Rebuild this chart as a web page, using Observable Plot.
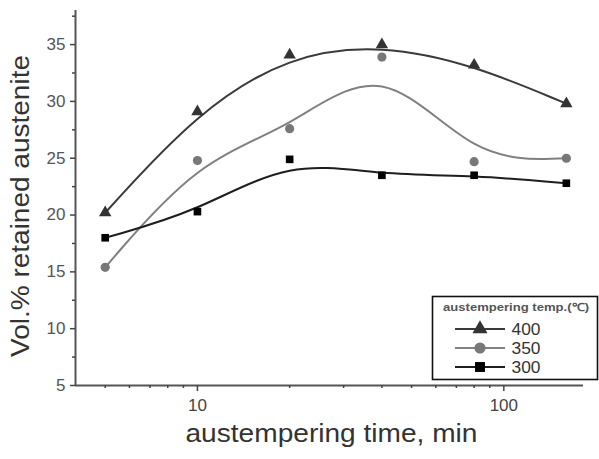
<!DOCTYPE html>
<html><head><meta charset="utf-8">
<script src="https://cdn.jsdelivr.net/npm/d3@7"></script>
<script src="https://cdn.jsdelivr.net/npm/@observablehq/plot@0.6"></script>
<style>
body{margin:0;background:#fff}
#chart{position:relative;width:599px;height:459px;font-family:"Liberation Sans",Arial,sans-serif}
</style>
</head><body><div id="chart"></div>
<script>
// Data
const times = [5, 10, 20, 40, 80, 160];
const temps = ["400", "350", "300"];
const v400 = [20.2, 29.1, 34.1, 35.0, 33.2, 29.8];
const v350 = [15.4, 24.8, 27.6, 33.9, 24.7, 25.0];
const v300 = [18.0, 20.3, 24.9, 23.5, 23.5, 22.8];
const yTicks = [5, 10, 15, 20, 25, 30, 35];
const yMinor = [7.5, 12.5, 17.5, 22.5, 27.5, 32.5, 37.5];
const xTicks = [10, 100];
const xMinor = [5, 6, 7, 8, 9, 20, 30, 40, 50, 60, 70, 80, 90];
const xLabel = "austempering time, min";
const yLabel = "Vol.% retained austenite";
const legendTitle = "austempering temp.(℃)";

const seriesValues = {"400": v400, "350": v350, "300": v300};
const styles = {
  "400": {line: "#3a3a3a", fill: "#333333", symbol: "triangle", r: 4.6, lr: 5.6},
  "350": {line: "#808080", fill: "#787878", symbol: "circle", r: 4.6, lr: 5.6},
  "300": {line: "#1e1e1e", fill: "#000000", symbol: "square", r: 4.3, lr: 5.6}
};

const data = [];
for (const t of temps) times.forEach((x, j) => data.push({temp: t, time: x, value: seriesValues[t][j]}));

const axisColor = "#555";
const marks = [
  Plot.ruleX([4], {stroke: axisColor, strokeWidth: 2}),
  Plot.ruleY([5], {stroke: axisColor, strokeWidth: 2}),
  Plot.axisY({ticks: yTicks, tickSize: 5, tickPadding: 5, fontSize: 17, stroke: "#444", strokeWidth: 1.5, fill: "#555", label: null}),
  Plot.axisY({ticks: yMinor, tickSize: 3, tickFormat: () => "", stroke: "#444", strokeWidth: 1.5, label: null}),
  Plot.axisX({ticks: xTicks, tickSize: 6, tickPadding: 7, fontSize: 17, stroke: "#444", strokeWidth: 1.5, fill: "#444", label: null}),
  Plot.axisX({ticks: xMinor, tickSize: 3, tickFormat: () => "", stroke: "#444", strokeWidth: 1.5, label: null}),
];
for (const t of temps) {
  const s = styles[t];
  const d = data.filter(e => e.temp === t);
  marks.push(Plot.line(d, {x: "time", y: "value", curve: "basis", stroke: s.line, strokeWidth: 2}));
}
for (const t of temps) {
  const s = styles[t];
  const d = data.filter(e => e.temp === t);
  marks.push(Plot.dot(d, {x: "time", y: "value", symbol: () => s.symbol, fill: s.fill, stroke: "none", r: s.r}));
}
marks.push(Plot.text([yLabel], {frameAnchor: "left", textAnchor: "middle", rotate: -90, dx: -55, dy: 8, fontSize: 26, fill: "#333", text: d => d, className: "ylab"}));
marks.push(Plot.text([xLabel], {frameAnchor: "bottom", textAnchor: "middle", dy: 56, dx: 2, fontSize: 26, fill: "#333", text: d => d, className: "xlab"}));

const plot = Plot.plot({
  width: 599, height: 459,
  marginLeft: 75, marginRight: 16, marginTop: 10, marginBottom: 74,
  style: {fontFamily: '"Liberation Sans", Arial, sans-serif', background: "#fff"},
  x: {type: "log", domain: [4, 182]},
  y: {domain: [5, 38]},
  symbol: {type: "identity"},
  marks
});
document.getElementById("chart").appendChild(plot);

const svg = d3.select(plot);
svg.selectAll(".ylab text").attr("textLength", 302).attr("lengthAdjust", "spacingAndGlyphs");
svg.selectAll(".xlab text").attr("textLength", 292).attr("lengthAdjust", "spacingAndGlyphs");

// Legend (boxed, lower right)
const g = svg.append("g").attr("font-family", '"Liberation Sans", Arial, sans-serif');
g.append("rect").attr("x", 432.5).attr("y", 296.5).attr("width", 165).attr("height", 83)
  .attr("fill", "#fff").attr("stroke", "#111").attr("stroke-width", 1.6);
g.append("text").attr("x", 516).attr("y", 311).attr("text-anchor", "middle")
  .attr("font-size", 11).attr("font-weight", "bold").attr("fill", "#555")
  .attr("textLength", 146).attr("lengthAdjust", "spacingAndGlyphs").text(legendTitle);
const sym = {triangle: d3.symbolTriangle, circle: d3.symbolCircle, square: d3.symbolSquare};
temps.forEach((t, i) => {
  const s = styles[t];
  const y = 329 + i * 19;
  g.append("line").attr("x1", 455).attr("x2", 505).attr("y1", y).attr("y2", y)
    .attr("stroke", s.line).attr("stroke-width", 2);
  g.append("path").attr("transform", `translate(480,${y})`)
    .attr("d", d3.symbol(sym[s.symbol], Math.PI * s.lr * s.lr)()).attr("fill", s.fill);
  g.append("text").attr("x", 526).attr("y", y + 6).attr("font-size", 16).attr("fill", "#333")
    .attr("textLength", 29).attr("lengthAdjust", "spacingAndGlyphs").text(t);
});
</script>
</body></html>
